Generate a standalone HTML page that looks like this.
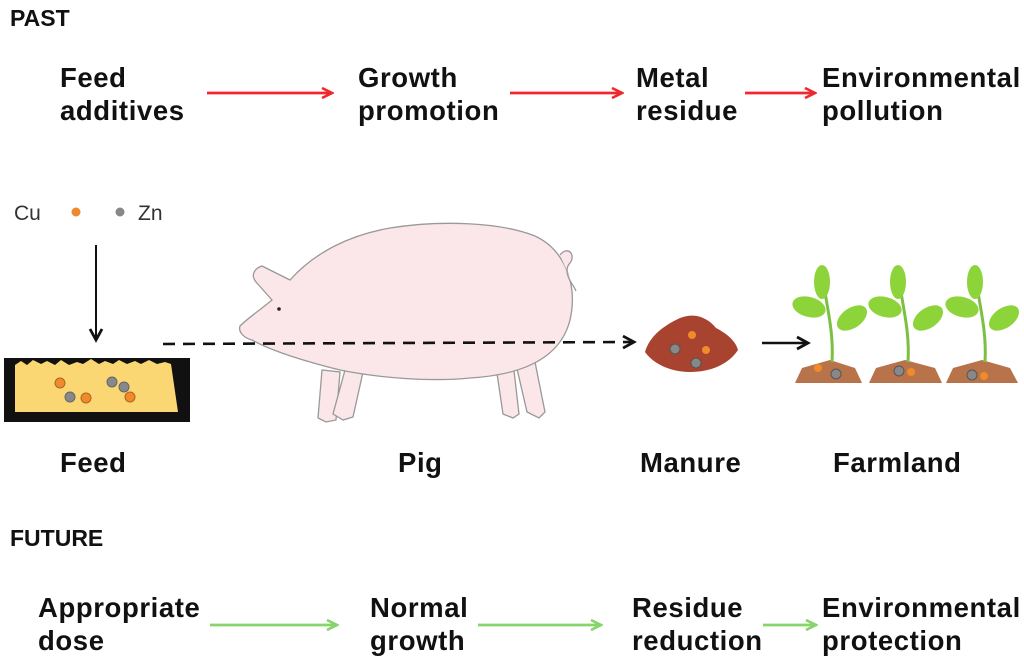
<!DOCTYPE html>
<html><head><meta charset="utf-8"><style>
html,body{margin:0;padding:0;background:#fff;}
body{width:1024px;height:662px;overflow:hidden;position:relative;}
svg{position:absolute;left:0;top:0;}
text{font-family:"Liberation Sans",Arial,sans-serif;}
.b{font-weight:bold;font-size:27.5px;fill:#111;letter-spacing:0.6px;}
.h{font-weight:bold;font-size:23px;fill:#111;}
</style></head><body>
<svg width="1024" height="662" viewBox="0 0 1024 662">
<defs>
<marker id="ar" markerWidth="14" markerHeight="14" refX="12" refY="7" orient="auto" markerUnits="userSpaceOnUse"><path d="M2,2 L12,7 L2,12" fill="none" stroke="#f0282d" stroke-width="2.6"/></marker>
<marker id="ag" markerWidth="14" markerHeight="14" refX="12" refY="7" orient="auto" markerUnits="userSpaceOnUse"><path d="M2,2 L12,7 L2,12" fill="none" stroke="#86d46a" stroke-width="2.6"/></marker>
<marker id="ak" markerWidth="16" markerHeight="16" refX="13" refY="8" orient="auto" markerUnits="userSpaceOnUse"><path d="M2,2 L13,8 L2,14" fill="none" stroke="#111" stroke-width="2.8"/></marker>
</defs>
<text class="h" x="10" y="26">PAST</text>
<text class="b" x="60" y="87">Feed</text><text class="b" x="60" y="120">additives</text>
<text class="b" x="358" y="87">Growth</text><text class="b" x="358" y="120">promotion</text>
<text class="b" x="636" y="87">Metal</text><text class="b" x="636" y="120">residue</text>
<text class="b" x="822" y="87">Environmental</text><text class="b" x="822" y="120">pollution</text>
<line x1="207" y1="93" x2="332" y2="93" stroke="#f0282d" stroke-width="2.8" marker-end="url(#ar)"/>
<line x1="510" y1="93" x2="622" y2="93" stroke="#f0282d" stroke-width="2.8" marker-end="url(#ar)"/>
<line x1="745" y1="93" x2="815" y2="93" stroke="#f0282d" stroke-width="2.8" marker-end="url(#ar)"/>

<text x="14" y="220" font-size="21" fill="#333">Cu</text>
<circle cx="76" cy="212" r="4.5" fill="#f0892a"/>
<circle cx="120" cy="212" r="4.5" fill="#888"/>
<text x="138" y="220" font-size="21" fill="#333">Zn</text>
<line x1="96" y1="245" x2="96" y2="340" stroke="#111" stroke-width="2" marker-end="url(#ak)"/>

<rect x="4" y="358" width="186" height="64" fill="#111"/>
<path d="M15,365 l6,-4 6,4 6,-5 8,4 6,-3 8,4 6,-5 8,5 8,-3 6,2 8,-5 8,5 6,-3 8,3 6,-4 8,4 8,-3 6,3 8,-4 8,4 8,-2 6,2 L178,412 L15,412Z" fill="#fad773"/>
<circle cx="60" cy="383" r="5" fill="#f08a2a" stroke="#aa6622"/>
<circle cx="70" cy="397" r="5" fill="#888" stroke="#666"/>
<circle cx="86" cy="398" r="5" fill="#f08a2a" stroke="#aa6622"/>
<circle cx="112" cy="382" r="5" fill="#888" stroke="#666"/>
<circle cx="124" cy="387" r="5" fill="#888" stroke="#666"/>
<circle cx="130" cy="397" r="5" fill="#f08a2a" stroke="#aa6622"/>

<!-- pig -->
<g fill="#fbe7e9" stroke="#999" stroke-width="1.3">
<path d="M322,370 l-4,48 8,4 10,-2 4,-48Z"/>
<path d="M345,370 l-12,44 10,6 10,-3 10,-45Z"/>
<path d="M495,360 l8,54 10,4 6,-4 -6,-52Z"/>
<path d="M515,360 l12,52 12,6 6,-6 -10,-50Z"/>
<path d="M290,280 L262,266 C255,268 250,275 256,282 L272,300 C260,310 248,318 240,326 C238,332 244,338 252,340 C270,350 300,360 340,370 C380,378 430,382 470,378 C520,375 560,360 570,320 C578,285 565,250 535,236 C500,222 440,220 390,228 C350,235 315,252 290,280Z"/>
<path d="M560,255 c8,-10 16,0 10,8 c-6,6 -2,16 4,24 l2,4"/>
</g>
<circle cx="279" cy="309" r="1.8" fill="#222"/>
<line x1="163" y1="344" x2="634" y2="342" stroke="#111" stroke-width="2.6" stroke-dasharray="12,8" marker-end="url(#ak)"/>

<!-- manure -->
<path d="M645,352 C650,335 665,325 680,318 C695,312 708,318 716,328 C728,334 736,342 738,350 C728,365 710,372 690,372 C668,372 652,362 645,352Z" fill="#a8432f"/>
<circle cx="692" cy="335" r="4" fill="#f08a2a"/>
<circle cx="675" cy="349" r="5" fill="#888" stroke="#555"/>
<circle cx="706" cy="350" r="4" fill="#f08a2a"/>
<circle cx="696" cy="363" r="5" fill="#888" stroke="#555"/>
<line x1="762" y1="343" x2="808" y2="343" stroke="#111" stroke-width="2.6" marker-end="url(#ak)"/>

<!-- plants -->
<g>
<path d="M795,383 L802,368 L830,360 L855,368 L862,383Z" fill="#b9734a"/>
<path d="M869,383 L876,368 L905,360 L935,368 L942,383Z" fill="#b9734a"/>
<path d="M946,383 L953,368 L982,360 L1010,368 L1018,383Z" fill="#b9734a"/>
<g stroke="#7cc043" stroke-width="3" fill="none">
<path d="M832,362 C834,330 826,305 822,272"/><path d="M908,362 C910,330 902,305 898,272"/><path d="M985,362 C987,330 979,305 975,272"/>
</g>
<g fill="#8dd43a">
<ellipse cx="822" cy="282" rx="8" ry="17"/><ellipse cx="809" cy="307" rx="17" ry="10" transform="rotate(15 809 307)"/><ellipse cx="852" cy="318" rx="17" ry="10" transform="rotate(-35 852 318)"/>
<ellipse cx="898" cy="282" rx="8" ry="17"/><ellipse cx="885" cy="307" rx="17" ry="10" transform="rotate(15 885 307)"/><ellipse cx="928" cy="318" rx="17" ry="10" transform="rotate(-35 928 318)"/>
<ellipse cx="975" cy="282" rx="8" ry="17"/><ellipse cx="962" cy="307" rx="17" ry="10" transform="rotate(15 962 307)"/><ellipse cx="1004" cy="318" rx="17" ry="10" transform="rotate(-35 1004 318)"/>
</g>
<circle cx="818" cy="368" r="4" fill="#f08a2a"/><circle cx="836" cy="374" r="5" fill="#888" stroke="#555"/>
<circle cx="899" cy="371" r="5" fill="#888" stroke="#555"/><circle cx="911" cy="372" r="4" fill="#f08a2a"/>
<circle cx="972" cy="375" r="5" fill="#888" stroke="#555"/><circle cx="984" cy="376" r="4" fill="#f08a2a"/>
</g>

<text class="b" x="60" y="472">Feed</text>
<text class="b" x="398" y="472">Pig</text>
<text class="b" x="640" y="472">Manure</text>
<text class="b" x="833" y="472">Farmland</text>

<text class="h" x="10" y="546">FUTURE</text>
<text class="b" x="38" y="617">Appropriate</text><text class="b" x="38" y="650">dose</text>
<text class="b" x="370" y="617">Normal</text><text class="b" x="370" y="650">growth</text>
<text class="b" x="632" y="617">Residue</text><text class="b" x="632" y="650">reduction</text>
<text class="b" x="822" y="617">Environmental</text><text class="b" x="822" y="650">protection</text>
<line x1="210" y1="625" x2="337" y2="625" stroke="#86d46a" stroke-width="2.8" marker-end="url(#ag)"/>
<line x1="478" y1="625" x2="601" y2="625" stroke="#86d46a" stroke-width="2.8" marker-end="url(#ag)"/>
<line x1="763" y1="625" x2="816" y2="625" stroke="#86d46a" stroke-width="2.8" marker-end="url(#ag)"/>
</svg>
</body></html>
